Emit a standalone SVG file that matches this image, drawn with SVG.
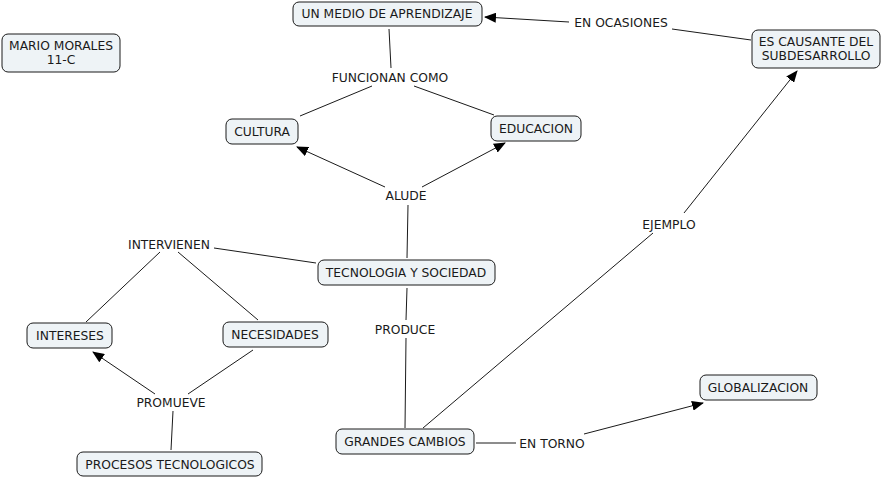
<svg xmlns="http://www.w3.org/2000/svg" width="883" height="478" viewBox="0 0 883 478">
<defs>
<style>
.n rect{fill:#eef3f6;stroke:#1a1a1a;stroke-width:1}
text{font-family:"DejaVu Sans",Verdana,sans-serif;font-size:12.3px;fill:#1a1a1a;text-anchor:middle}
.c line{stroke:#1a1a1a;stroke-width:1}
</style>
<marker id="a" markerWidth="12" markerHeight="10" refX="11" refY="5" orient="auto" markerUnits="userSpaceOnUse">
<path d="M0,0 L12,5 L0,10 Z" fill="#000"/>
</marker>
</defs>
<rect width="883" height="478" fill="#fff"/>
<g class="c">
<line x1="751" y1="40" x2="672" y2="29"/>
<line x1="569" y1="22" x2="485" y2="17" marker-end="url(#a)"/>
<line x1="389" y1="29" x2="391" y2="68"/>
<line x1="372" y1="86" x2="300" y2="116"/>
<line x1="414" y1="86" x2="494" y2="115"/>
<line x1="407" y1="258" x2="408" y2="205"/>
<line x1="385" y1="187" x2="297" y2="147" marker-end="url(#a)"/>
<line x1="422" y1="187" x2="505" y2="143" marker-end="url(#a)"/>
<line x1="316" y1="263" x2="214" y2="248"/>
<line x1="160" y1="252" x2="86" y2="322"/>
<line x1="178" y1="252" x2="258" y2="320"/>
<line x1="171" y1="450" x2="173" y2="411"/>
<line x1="155" y1="394" x2="93" y2="352" marker-end="url(#a)"/>
<line x1="188" y1="394" x2="253" y2="350"/>
<line x1="407" y1="288" x2="406" y2="320"/>
<line x1="406" y1="338" x2="405" y2="428"/>
<line x1="423" y1="428" x2="653" y2="233"/>
<line x1="684" y1="213" x2="797" y2="71" marker-end="url(#a)"/>
<line x1="476" y1="443" x2="516" y2="443"/>
<line x1="584" y1="434" x2="703" y2="403" marker-end="url(#a)"/>
</g>
<g id="mario" class="n"><rect x="2" y="34" width="118" height="38" rx="6"/><text x="61" y="50">MARIO MORALES</text><text x="61" y="64">11-C</text></g>
<g id="medio" class="n"><rect x="293" y="2" width="189" height="24" rx="6"/><text x="387" y="18">UN MEDIO DE APRENDIZAJE</text></g>
<g id="causante" class="n"><rect x="752" y="30" width="128" height="38" rx="6"/><text x="816" y="46">ES CAUSANTE DEL</text><text x="816" y="60">SUBDESARROLLO</text></g>
<g id="cultura" class="n"><rect x="226" y="119" width="72" height="25" rx="6"/><text x="262" y="136">CULTURA</text></g>
<g id="educacion" class="n"><rect x="491" y="116" width="90" height="25" rx="6"/><text x="536" y="133">EDUCACION</text></g>
<g id="tecnologia" class="n"><rect x="318" y="260" width="177" height="25" rx="6"/><text x="406" y="277">TECNOLOGIA Y SOCIEDAD</text></g>
<g id="intereses" class="n"><rect x="27" y="323" width="85" height="25" rx="6"/><text x="70" y="340">INTERESES</text></g>
<g id="necesidades" class="n"><rect x="223" y="322" width="105" height="25" rx="6"/><text x="275" y="339">NECESIDADES</text></g>
<g id="procesos" class="n"><rect x="77" y="452" width="185" height="24" rx="6"/><text x="170" y="469">PROCESOS TECNOLOGICOS</text></g>
<g id="grandes" class="n"><rect x="336" y="429" width="138" height="25" rx="6"/><text x="405" y="446">GRANDES CAMBIOS</text></g>
<g id="globalizacion" class="n"><rect x="700" y="375" width="117" height="25" rx="6"/><text x="758" y="392">GLOBALIZACION</text></g>
<g id="labels">
<text x="621" y="27">EN OCASIONES</text>
<text x="390" y="82">FUNCIONAN COMO</text>
<text x="406" y="200">ALUDE</text>
<text x="169" y="249">INTERVIENEN</text>
<text x="405" y="334">PRODUCE</text>
<text x="669" y="229">EJEMPLO</text>
<text x="171" y="407">PROMUEVE</text>
<text x="552" y="448">EN TORNO</text>
</g>
</svg>
